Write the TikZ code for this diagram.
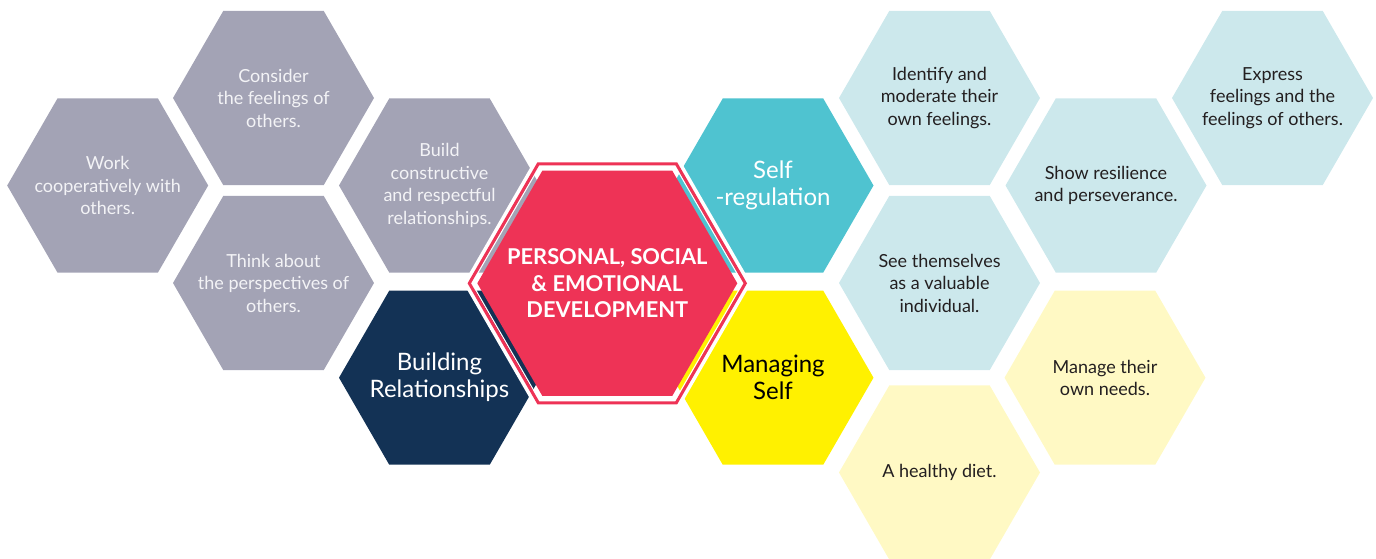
\documentclass[tikz,border=0pt]{standalone}
\usepackage{fontspec}
\setmainfont{Lato}
\usetikzlibrary{shapes.geometric}
\definecolor{hgray}{HTML}{A3A3B5}
\definecolor{hgraytxt}{HTML}{F3F3F6}
\definecolor{hnavy}{HTML}{133255}
\definecolor{hred}{HTML}{EE3356}
\definecolor{hteal}{HTML}{4FC3D0}
\definecolor{hyellow}{HTML}{FFF100}
\definecolor{hlblue}{HTML}{CCE8EC}
\definecolor{hlyellow}{HTML}{FFF9C4}
\definecolor{hdark}{HTML}{231F20}
\begin{document}
\begin{tikzpicture}[x=1pt,y=-1pt,
  hexa/.style={regular polygon, regular polygon sides=6, minimum size=201pt,
    inner sep=0pt, outer sep=0pt, draw=none},
  smalltxt/.style={align=center, inner sep=0pt, font=\fontsize{18}{22.5}\selectfont},
  bigtxt/.style={align=center, inner sep=0pt, font=\fontsize{24}{27}\selectfont},
  centertxt/.style={align=center, inner sep=0pt, text=white, font=\bfseries\fontsize{21.8}{26.7}\selectfont},
  grayhex/.style={hexa, fill=hgray, label={[smalltxt, text=hgraytxt]center:{#1}}},
  bluehex/.style={hexa, fill=hlblue, label={[smalltxt, text=hdark]center:{#1}}},
  yelhex/.style={hexa, fill=hlyellow, label={[smalltxt, text=hdark]center:{#1}}}
]
\useasboundingbox (0,0) rectangle (1376,558);
% grey branch
\node[grayhex={Work\\cooperatively with\\others.}] (work) at (107.7,185.5) {};
\node[grayhex={Consider\\the feelings of\\others.}] (consider) at (273.5,98) {};
\node[grayhex={Think about\\the perspectives of\\others.}] (think) at (273.5,283) {};
\node[grayhex={Build\\constructive\\and respectful\\relationships.}] (build) at (439.5,185.5) {};
\node[hexa, fill=hnavy, label={[bigtxt, text=white]center:{Building\\Relationships}}] (buildrel) at (439.5,377.7) {};
% self-regulation branch
\node[hexa, fill=hteal, label={[bigtxt, text=white]center:{Self\\-regulation}}] (selfreg) at (773,185.5) {};
\node[bluehex={Identify and\\moderate their\\own feelings.}] (identify) at (939.5,98) {};
\node[bluehex={See themselves\\as a valuable\\individual.}] (see) at (939.5,283) {};
\node[bluehex={Show resilience\\and perseverance.}] (show) at (1106,185.5) {};
\node[bluehex={Express\\feelings and the\\feelings of others.}] (express) at (1272.5,98) {};
% managing self branch
\node[hexa, fill=hyellow, label={[bigtxt, text=black]center:{Managing\\Self}}] (managing) at (773,377.7) {};
\node[yelhex={Manage their\\own needs.}] (needs) at (1105,377.7) {};
\node[yelhex={A healthy diet.}] (diet) at (939.5,472.5) {};
% centre
\node[hexa, minimum size=282pt, draw=white, line width=5pt] (halo) at (607.3,283.3) {};
\node[hexa, minimum size=271pt, draw=white, line width=1.2pt] (halin) at (607.3,283.3) {};
\node[hexa, minimum size=276pt, draw=hred, line width=3pt] (ring) at (607.3,283.3) {};
\node[hexa, minimum size=260pt, fill=hred, label={[centertxt]center:{PERSONAL, SOCIAL\\\& EMOTIONAL\\DEVELOPMENT}}] (pse) at (607.3,283.3) {};
\end{tikzpicture}
\end{document}
